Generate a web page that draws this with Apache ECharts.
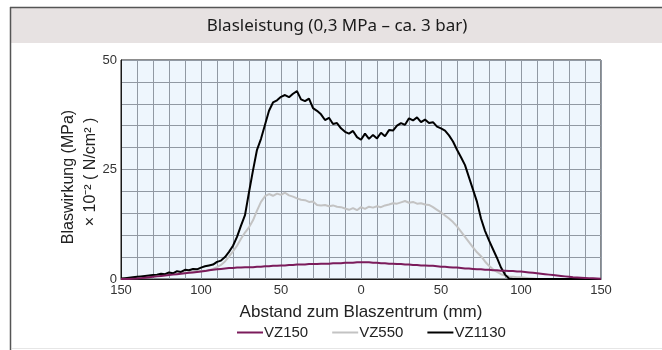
<!DOCTYPE html>
<html>
<head>
<meta charset="utf-8">
<script src="https://cdn.jsdelivr.net/npm/echarts@6/dist/echarts.min.js"></script>
<style>
html,body{margin:0;padding:0;background:#fff;}
#chart{width:662px;height:350px;}
</style>
</head>
<body>
<div id="chart"></div>
<script>
// Distance from blow centre (mm), negative = left side
var positions = [
-150,-147.5,-145,-142.5,-140,-137.5,-135,-132.5,-130,-127.5,
-125,-122.5,-120,-117.5,-115,-112.5,-110,-107.5,-105,-102.5,
-100,-97.5,-95,-92.5,-90,-87.5,-85,-82.5,-80,-77.5,
-75,-72.5,-70,-67.5,-65,-62.5,-60,-57.5,-55,-52.5,
-50,-47.5,-45,-42.5,-40,-37.5,-35,-32.5,-30,-27.5,
-25,-22.5,-20,-17.5,-15,-12.5,-10,-7.5,-5,-2.5,
0,2.5,5,7.5,10,12.5,15,17.5,20,22.5,
25,27.5,30,32.5,35,37.5,40,42.5,45,47.5,
50,52.5,55,57.5,60,62.5,65,67.5,70,72.5,
75,77.5,80,82.5,85,87.5,90,92.5,95,97.5,
100,102.5,105,107.5,110,112.5,115,117.5,120,122.5,
125,127.5,130,132.5,135,137.5,140,142.5,145,147.5,
150];

var vz150 = [
0.0,0.0,0.0,0.05,0.1,0.2,0.3,0.4,0.5,0.6,
0.7,0.8,0.9,1.0,1.1,1.2,1.3,1.4,1.5,1.6,
1.7,1.8,2.0,2.1,2.2,2.3,2.4,2.5,2.5,2.6,
2.6,2.7,2.7,2.7,2.8,2.8,2.9,2.9,3.0,3.0,
3.1,3.1,3.2,3.2,3.3,3.3,3.3,3.4,3.4,3.4,
3.5,3.5,3.5,3.6,3.6,3.6,3.7,3.7,3.7,3.8,
3.8,3.8,3.8,3.7,3.7,3.6,3.6,3.5,3.5,3.4,
3.4,3.3,3.3,3.2,3.2,3.1,3.1,3.0,3.0,2.9,
2.8,2.8,2.7,2.6,2.6,2.5,2.4,2.4,2.3,2.2,
2.2,2.1,2.1,2.0,2.0,1.9,1.9,1.8,1.8,1.7,
1.7,1.6,1.5,1.4,1.3,1.2,1.1,1.0,0.9,0.8,
0.7,0.6,0.5,0.4,0.35,0.3,0.25,0.2,0.15,0.1,
0.05];

var vz550 = [
0.0,0.1,0.2,0.3,0.4,0.5,0.6,0.7,0.8,0.9,
1.0,1.1,1.2,1.3,1.3,1.4,1.5,1.5,1.6,1.7,
1.8,1.9,2.0,2.3,2.7,3.2,4.0,5.1,6.3,7.6,
9.2,10.6,11.8,13.4,15.6,17.6,18.9,19.4,19.0,19.5,
19.2,19.7,19.1,18.8,18.4,18.1,18.0,17.6,17.7,16.9,
16.8,16.9,16.6,16.8,16.5,16.4,16.1,15.8,16.2,15.7,
16.4,16.0,16.5,16.3,16.6,16.4,16.8,17.0,17.3,17.2,
17.5,17.8,17.4,17.6,17.2,17.3,17.0,16.9,16.4,15.8,
15.2,14.5,13.8,13.0,12.0,10.8,9.6,8.4,7.2,6.1,
5.2,4.0,3.0,2.2,1.6,1.1,0.8,0.6,0.5,0.4,
0.4,0.3,0.2,0.1,0,0,0,0,0,0,
0,0,0,0,0,0,0,0,0,0,
0];

var vz1130 = [
0.1,0.2,0.3,0.4,0.5,0.6,0.7,0.8,0.9,1.0,
1.2,1.1,1.5,1.3,1.8,1.6,2.1,2.0,2.3,2.2,
2.6,2.9,3.1,3.3,3.9,4.2,5.0,6.2,7.6,9.6,
12.2,14.6,19.8,24.8,29.5,32.0,35.2,38.4,40.3,40.8,
41.6,42.0,41.5,42.3,42.9,41.0,40.6,41.2,39.0,38.4,
37.6,36.3,36.8,35.4,35.6,34.4,33.6,33.2,33.8,32.4,
31.8,33.2,32.0,32.9,32.1,33.4,32.6,34.0,33.9,35.0,
35.6,35.2,36.7,36.2,36.9,35.8,36.4,35.6,35.8,34.8,
34.4,33.9,32.8,31.4,29.5,27.8,26.0,23.2,20.4,17.6,
13.8,11.0,8.8,6.8,4.8,2.6,1.0,0.1,0,0,
0,0,0,0,0,0,0,0,0,0,
0,0,0,0,0,0,0,0,0,0,
0];

var seriesNames = ['VZ150', 'VZ550', 'VZ1130'];
var xLabelStep = 50;
var yLabelStep = 25;

function pairs(vals) {
  var out = [];
  for (var i = 0; i < positions.length; i++) out.push([positions[i], vals[i]]);
  return out;
}

var chart = echarts.init(document.getElementById('chart'), null, {renderer: 'canvas'});
var font = '"Liberation Sans", Arial, sans-serif';

var option = {
  animation: false,
  backgroundColor: '#ffffff',
  graphic: [
    {type: 'rect', shape: {x: 11, y: 8, width: 651, height: 35}, style: {fill: '#e7e2e2'}, z: -10},
    {type: 'line', shape: {x1: 10, y1: 7.5, x2: 662, y2: 7.5}, style: {stroke: '#555555', lineWidth: 1.5}},
    {type: 'line', shape: {x1: 10.5, y1: 7, x2: 10.5, y2: 350}, style: {stroke: '#555555', lineWidth: 1.5}},
    {type: 'line', shape: {x1: 12, y1: 348.5, x2: 662, y2: 348.5}, style: {stroke: '#e6e6e6', lineWidth: 1}},
    {type: 'text', x: 337, y: 26, style: {text: 'Blasleistung (0,3 MPa – ca. 3 bar)', fill: '#1a1a1a', font: '17px "Noto Sans", sans-serif', align: 'center', verticalAlign: 'middle'}},
    {type: 'text', x: 69, y: 177, rotation: Math.PI / 2, style: {text: 'Blaswirkung (MPa)', fill: '#222', font: '16px ' + font, align: 'center', verticalAlign: 'middle'}},
    {type: 'text', x: 91, y: 172, rotation: Math.PI / 2, style: {text: '× 10⁻² ( N/cm² )', fill: '#222', font: '16px ' + font, align: 'center', verticalAlign: 'middle'}}
  ],
  grid: {
    left: 121, right: 61, top: 60, bottom: 71,
    show: true, backgroundColor: '#eef6fd', borderColor: '#1a1a1a', borderWidth: 1
  },
  legend: {
    data: seriesNames,
    top: 320,
    left: 232,
    icon: 'rect',
    itemWidth: 26,
    itemHeight: 2,
    itemGap: 24,
    textStyle: {fontFamily: font, fontSize: 15, color: '#222', padding: [0, 0, 0, -4]}
  },
  xAxis: {
    type: 'value', min: -150, max: 150, interval: 10,
    name: 'Abstand zum Blaszentrum (mm)', nameLocation: 'middle', nameGap: 25,
    nameTextStyle: {fontFamily: font, fontSize: 17, color: '#222'},
    axisLine: {show: true, onZero: false, lineStyle: {color: '#1a1a1a', width: 1}},
    axisTick: {show: false},
    axisLabel: {
      fontFamily: font, fontSize: 13, color: '#333', margin: 5,
      formatter: function (v) { return (v % xLabelStep === 0) ? String(Math.abs(v)) : ''; }
    },
    splitLine: {show: true, lineStyle: {color: '#9199a3', width: 1}}
  },
  yAxis: {
    type: 'value', min: 0, max: 50, interval: 5,
    axisLine: {show: true, onZero: false, lineStyle: {color: '#1a1a1a', width: 1}},
    axisTick: {show: false},
    axisLabel: {
      fontFamily: font, fontSize: 13, color: '#333', margin: 4,
      formatter: function (v) { return (v % yLabelStep === 0) ? String(v) : ''; }
    },
    splitLine: {show: true, lineStyle: {color: '#9199a3', width: 1}}
  },
  series: [
    {name: 'VZ550', type: 'line', showSymbol: false, data: pairs(vz550),
     lineStyle: {color: '#c3c3c3', width: 2}, itemStyle: {color: '#c3c3c3'}},
    {name: 'VZ1130', type: 'line', showSymbol: false, data: pairs(vz1130),
     lineStyle: {color: '#000000', width: 2}, itemStyle: {color: '#000000'}},
    {name: 'VZ150', type: 'line', showSymbol: false, data: pairs(vz150),
     lineStyle: {color: '#7b1b5b', width: 2}, itemStyle: {color: '#7b1b5b'}}
  ]
};
chart.setOption(option);
</script>
</body>
</html>
